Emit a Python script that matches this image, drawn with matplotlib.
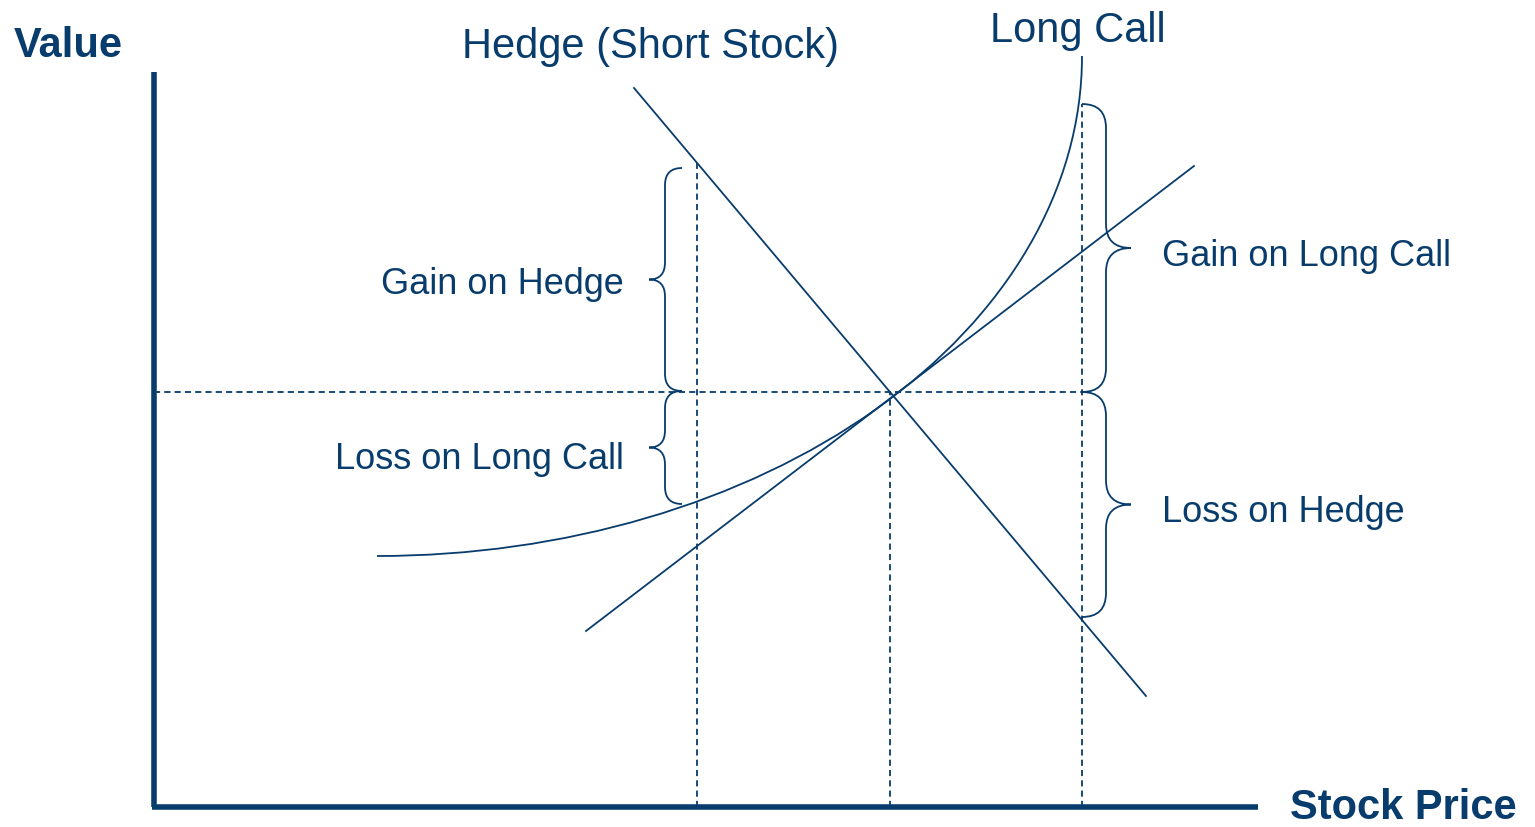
import numpy as np
import matplotlib.pyplot as plt
from matplotlib.path import Path
from matplotlib.patches import PathPatch, Arc

plt.rcParams['font.family'] = ['Liberation Sans', 'DejaVu Sans']

navy = '#083c6c'

# stock price levels (low, current, high) and value at current price
s_low, s_0, s_high = 543, 736, 928
v_0 = 415

# hedge (short stock) line end points
hedge_x = [480, 992]
hedge_y = [719, 111]

# long stock / delta line end points
delta_x = [432, 1040]
delta_y = [176, 641]

# long call curve: quarter of an ellipse
call_center = (223, 751)
call_width = 1410
call_height = 1000

# braces: (x where it touches, low value, high value, side)
braces = [
    (s_low, 416, 639, -1),
    (s_low, 303, 416, -1),
    (s_high, 415, 703, 1),
    (s_high, 190, 415, 1),
]

labels = ['Gain on Hedge', 'Loss on Long Call', 'Gain on Long Call', 'Loss on Hedge']


def brace(ax, xe, y0, y1, side, w_end, w_tip):
    # xe: where the ends curl to, side=-1 opens to the left
    xm = xe + side * w_end
    xt = xm + side * (w_tip - w_end)
    ym = (y0 + y1) / 2
    r = min(w_end, (y1 - y0) / 4)
    verts = [(xe, y1), (xm, y1), (xm, y1 - r),
             (xm, ym + r), (xm, ym), (xt, ym),
             (xm, ym), (xm, ym - r),
             (xm, y0 + r), (xm, y0), (xe, y0)]
    codes = [Path.MOVETO, Path.CURVE3, Path.CURVE3,
             Path.LINETO, Path.CURVE3, Path.CURVE3,
             Path.CURVE3, Path.CURVE3,
             Path.LINETO, Path.CURVE3, Path.CURVE3]
    ax.add_patch(PathPatch(Path(verts, codes), fill=False, ec=navy, lw=1.3))


fig = plt.figure(figsize=(15.35, 8.28), dpi=100)
ax = fig.add_axes([0, 0, 1, 1])
ax.set_xlim(-154, 1381)
ax.set_ylim(-20, 808)
ax.axis('off')

# axes
ax.plot([0, 0], [0, 735], color=navy, lw=4, solid_capstyle='butt')
ax.plot([-2, 1104], [0, 0], color=navy, lw=4, solid_capstyle='butt')

# dashed guides
dash = dict(color=navy, lw=1.3, dashes=(3.4, 2.3))
hedge_at_low = np.interp(s_low, hedge_x, hedge_y)
ax.plot([0, s_high], [v_0, v_0], **dash)
ax.plot([s_low, s_low], [0, hedge_at_low], **dash)
ax.plot([s_0, s_0], [0, v_0], **dash)
ax.plot([s_high, s_high], [0, 703], **dash)

# lines
ax.plot(hedge_x, hedge_y, color=navy, lw=1.3)
ax.plot(delta_x, delta_y, color=navy, lw=1.3)
ax.add_patch(Arc(call_center, call_width, call_height, theta1=270, theta2=360,
                 color=navy, lw=1.3))

for xe, y0, y1, side in braces:
    if side < 0:
        brace(ax, xe - 15, y0, y1, side, 17, 33)
    else:
        brace(ax, xe, y0, y1, side, 24, 49)

ax.text(-140, 751, 'Value', fontsize=30, fontweight='bold', color=navy, va='baseline')
ax.text(1136, -11, 'Stock Price', fontsize=30, fontweight='bold', color=navy, va='baseline')
ax.text(308, 750, 'Hedge (Short Stock)', fontsize=30, color=navy, va='baseline')
ax.text(836, 766, 'Long Call', fontsize=30, color=navy, va='baseline')

ax.text(470, 514, labels[0], fontsize=26, color=navy, ha='right', va='baseline')
ax.text(470, 339, labels[1], fontsize=26, color=navy, ha='right', va='baseline')
ax.text(1008, 542, labels[2], fontsize=26, color=navy, ha='left', va='baseline')
ax.text(1008, 286, labels[3], fontsize=26, color=navy, ha='left', va='baseline')

fig.savefig('out.png', dpi=100)
